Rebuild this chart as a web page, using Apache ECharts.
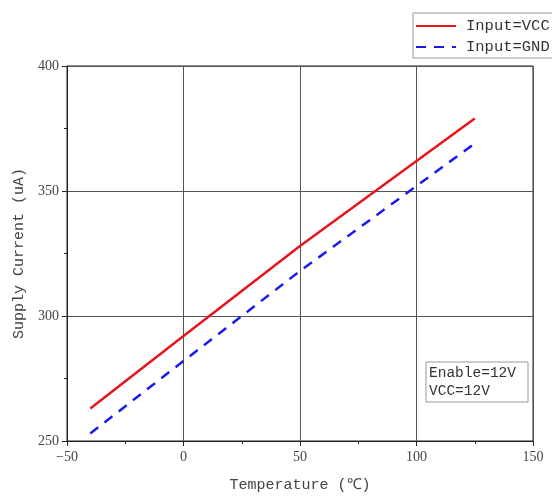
<!DOCTYPE html>
<html><head><meta charset="utf-8">
<script src="https://cdn.jsdelivr.net/npm/echarts@6/dist/echarts.min.js"></script>
<style>html,body{margin:0;padding:0;background:#fff}#c{width:552px;height:497px}</style>
</head><body><div id="c"></div>
<script>
const temps = [-40, 0, 50, 100, 125];
const vccCurrent = [263, 292, 328, 362, 379];
const gndCurrent = [253, 282, 318, 352, 369];
const seriesNames = ['Input=VCC', 'Input=GND'];
const noteLines = ['Enable=12V', 'VCC=12V'];

const chart = echarts.init(document.getElementById('c'));
const mono = 'Liberation Mono';
const serif = 'Liberation Serif';
chart.setOption({
  animation: false,
  backgroundColor: '#fff',
  grid: {left: 67, right: 19, top: 66, bottom: 56, show: true, borderColor: '#222', borderWidth: 1,
         containLabel: false, outerBoundsMode: 'none'},
  legend: {
    left: 413, top: 13, orient: 'vertical', itemWidth: 40, itemHeight: 10, itemGap: 5,
    padding: [5, 20, 3, 2], borderColor: '#999', borderWidth: 1, backgroundColor: '#fff',
    textStyle: {fontFamily: mono, fontSize: 15.5, color: '#333', padding: [0, 0, 0, 5]},
    itemStyle: {opacity: 0},
    data: seriesNames
  },
  xAxis: {
    type: 'value', min: -50, max: 150, interval: 50,
    name: 'Temperature (℃)', nameLocation: 'middle', nameGap: 37,
    nameTextStyle: {fontFamily: mono, fontSize: 15, color: '#444'},
    axisLine: {onZero: false, lineStyle: {color: '#222'}},
    axisTick: {show: true, inside: false, length: 5, lineStyle: {color: '#222'}},
    minorTick: {show: true, splitNumber: 2, length: 3, lineStyle: {color: '#222'}},
    axisLabel: {fontFamily: serif, fontSize: 14, color: '#444', margin: 9,
      formatter: v => v < 0 ? '\u2212' + Math.abs(v) : String(v)},
    splitLine: {show: true, lineStyle: {color: '#555', width: 1}}
  },
  yAxis: {
    type: 'value', min: 250, max: 400, interval: 50,
    name: 'Supply Current (uA)', nameLocation: 'middle', nameGap: 40,
    nameTextStyle: {fontFamily: mono, fontSize: 15, color: '#444'},
    axisLine: {show: true, onZero: false, lineStyle: {color: '#222'}},
    axisTick: {show: true, inside: false, length: 5, lineStyle: {color: '#222'}},
    minorTick: {show: true, splitNumber: 2, length: 3, lineStyle: {color: '#222'}},
    axisLabel: {fontFamily: serif, fontSize: 14, color: '#444', margin: 8},
    splitLine: {show: true, lineStyle: {color: '#555', width: 1}}
  },
  graphic: [
    {type: 'rect', shape: {x: 426, y: 362, width: 102, height: 40},
     style: {fill: '#fff', stroke: '#999', lineWidth: 1}, z: 100},
    {type: 'text', x: 429, y: 364, z: 101,
     style: {text: noteLines.join('\n'), fontFamily: mono, fontSize: 14.5, lineHeight: 18, fill: '#333'}}
  ],
  series: [
    {name: seriesNames[0], type: 'line', symbol: 'none', data: temps.map((t, i) => [t, vccCurrent[i]]),
     lineStyle: {color: '#e8141c', width: 2.5}, itemStyle: {color: '#e8141c'}},
    {name: seriesNames[1], type: 'line', symbol: 'none', data: temps.map((t, i) => [t, gndCurrent[i]]),
     lineStyle: {color: '#1a1aee', width: 2.5, type: [10, 8]}, itemStyle: {color: '#1a1aee'}}
  ]
});
</script></body></html>
